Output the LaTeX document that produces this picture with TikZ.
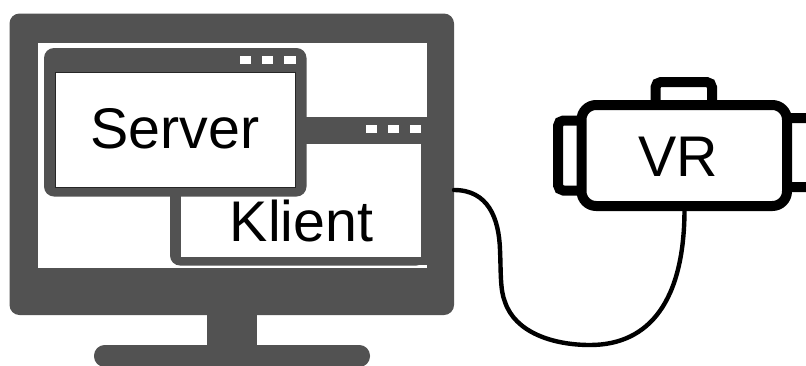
\documentclass[tikz,border=0pt]{standalone}
\usepackage{fontspec}
\setmainfont{Liberation Sans}
\definecolor{mon}{HTML}{525252}
\tikzset{
  x=0.75pt,y=-0.75pt,
  solid box/.style={fill=mon,draw=none,rounded corners=#1},
  solid box/.default=7.5pt,
  pane/.style={fill=white,draw=none},
  dot/.style={fill=white,draw=none},
  gear/.style={draw=black,line width=7.5pt,fill=white,rounded corners=#1},
  gear/.default=8pt,
  label/.style={font=\fontsize{43}{43}\selectfont,text=black,inner sep=0pt,anchor=base},
  cable/.style={draw=black,line width=3.3pt,line cap=round},
}
\begin{document}
\begin{tikzpicture}
\useasboundingbox (0,0) rectangle (806,365);
\clip (0,0) rectangle (806,365);
% monitor
\path[solid box=8pt] (94,345) rectangle (370,367);
\path[fill=mon] (207,310) rectangle (257,350);
\path[solid box] (9.5,13.5) rectangle (454,315);
\path[pane] (37.5,43) rectangle (426.5,267.5);
% client window
\path[solid box] (170,117) rectangle (426.5,265.5);
\path[fill=mon] (400,117) rectangle (426.5,265);
\path[pane] (181,144) rectangle (421,257);
\foreach \a/\b in {366/377,388/399,410/421} \path[dot] (\a,125) rectangle (\b,133);
\node[label] (klient) at (301.5,241) {Klient};
% server window
\path[solid box] (44,48) rectangle (306.5,196.5);
\path[pane,draw=black!85,line width=0.6pt] (55,72.5) rectangle (295.5,187.5);
\foreach \a/\b in {240/251,262/273,284/296} \path[dot] (\a,56) rectangle (\b,64);
\node[label] (server) at (175,148) {Server};
% headset
\path[gear=4pt] (655.5,105) -- (655.5,82) -- (712,82) -- (712,105);
\path[gear=4pt] (581,120.5) -- (558,120.5) -- (558,190.5) -- (581,190.5);
\path[gear=4pt] (787,118) -- (815,118) -- (815,187) -- (787,187);
\path[gear=11pt] (581.5,105) rectangle (787,206);
\node[label] (vr) at (678.5,176) {VR};
% cable
\coordinate (plug) at (454,190);
\coordinate (jack) at (684.5,209);
\path[cable] (plug) .. controls (488,190) and (499,218) .. (500,250)
  .. controls (501,272) and (500,290) .. (505,302)
  .. controls (515,332) and (552,345) .. (590,345)
  .. controls (650,345) and (684.5,300) .. (jack);
\end{tikzpicture}
\end{document}
